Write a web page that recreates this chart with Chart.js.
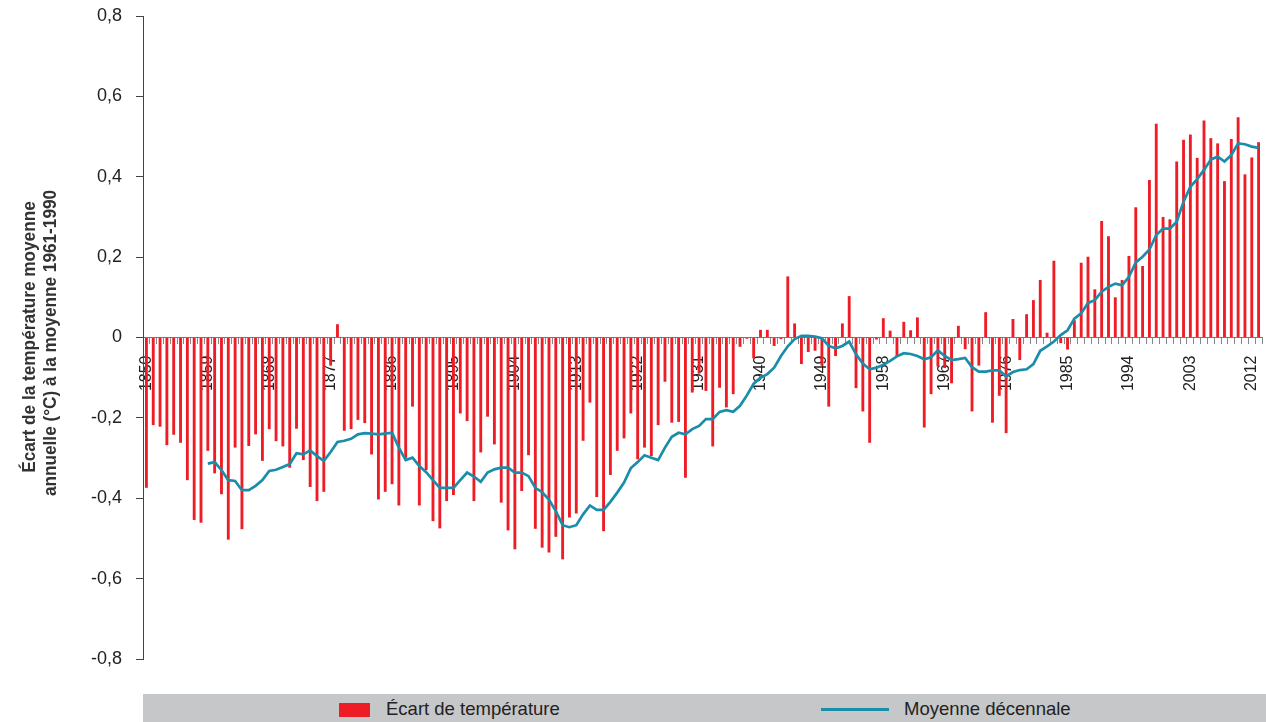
<!DOCTYPE html>
<html lang="fr">
<head>
<meta charset="utf-8">
<title>Écart de la température moyenne annuelle</title>
<script src="https://cdn.jsdelivr.net/npm/chart.js@4.4.1/dist/chart.umd.min.js"></script>
<style>
    body { margin: 0; background: #fff; }
    #wrap { position: relative; width: 1266px; height: 722px; }
    #legend {
        position: absolute; left: 143px; top: 694px; width: 1123px; height: 28px;
        background: #c6c7c9; font-family: "Liberation Sans", Arial, sans-serif;
        font-size: 18.5px; color: #222;
    }
    .item { position: absolute; top: 0; height: 28px; line-height: 29px; white-space: nowrap; }
    .box { position: absolute; left: 196px; top: 9px; width: 31px; height: 14px; background: #ee1c25; }
    .line { position: absolute; left: 678px; top: 14px; width: 68px; height: 3px; background: #1a8dab; }
</style>
</head>
<body>
<div id="wrap">
    <canvas id="chart" width="1266" height="694"></canvas>
    <div id="legend">
        <div class="box"></div>
        <div class="item" style="left:243px">Écart de température</div>
        <div class="line"></div>
        <div class="item" style="left:761px">Moyenne décennale</div>
    </div>
</div>
<script>
// years on the category axis
var years = [
    1850, 1851, 1852, 1853, 1854, 1855, 1856, 1857, 1858, 1859,
    1860, 1861, 1862, 1863, 1864, 1865, 1866, 1867, 1868, 1869,
    1870, 1871, 1872, 1873, 1874, 1875, 1876, 1877, 1878, 1879,
    1880, 1881, 1882, 1883, 1884, 1885, 1886, 1887, 1888, 1889,
    1890, 1891, 1892, 1893, 1894, 1895, 1896, 1897, 1898, 1899,
    1900, 1901, 1902, 1903, 1904, 1905, 1906, 1907, 1908, 1909,
    1910, 1911, 1912, 1913, 1914, 1915, 1916, 1917, 1918, 1919,
    1920, 1921, 1922, 1923, 1924, 1925, 1926, 1927, 1928, 1929,
    1930, 1931, 1932, 1933, 1934, 1935, 1936, 1937, 1938, 1939,
    1940, 1941, 1942, 1943, 1944, 1945, 1946, 1947, 1948, 1949,
    1950, 1951, 1952, 1953, 1954, 1955, 1956, 1957, 1958, 1959,
    1960, 1961, 1962, 1963, 1964, 1965, 1966, 1967, 1968, 1969,
    1970, 1971, 1972, 1973, 1974, 1975, 1976, 1977, 1978, 1979,
    1980, 1981, 1982, 1983, 1984, 1985, 1986, 1987, 1988, 1989,
    1990, 1991, 1992, 1993, 1994, 1995, 1996, 1997, 1998, 1999,
    2000, 2001, 2002, 2003, 2004, 2005, 2006, 2007, 2008, 2009,
    2010, 2011, 2012, 2013
];

// years that get a label under the axis
var labelledYears = [1850, 1859, 1868, 1877, 1886, 1895, 1904, 1913, 1922, 1931,
    1940, 1949, 1958, 1967, 1976, 1985, 1994, 2003, 2012];

// y axis title, two lines
var yTitle = ['Écart de la température moyenne', 'annuelle (°C) à la moyenne 1961-1990'];

// annual anomaly (°C) vs 1961-1990
var anomalies = [
    -0.374, -0.218, -0.222, -0.268, -0.242, -0.262, -0.355, -0.454, -0.461, -0.282,
    -0.338, -0.390, -0.503, -0.274, -0.477, -0.270, -0.241, -0.307, -0.228, -0.258,
    -0.271, -0.324, -0.227, -0.305, -0.372, -0.407, -0.384, -0.070, 0.033, -0.232,
    -0.228, -0.205, -0.213, -0.291, -0.403, -0.384, -0.365, -0.418, -0.300, -0.172,
    -0.418, -0.330, -0.457, -0.475, -0.407, -0.392, -0.189, -0.208, -0.407, -0.286,
    -0.197, -0.266, -0.411, -0.480, -0.527, -0.382, -0.293, -0.476, -0.523, -0.535,
    -0.496, -0.552, -0.448, -0.438, -0.257, -0.162, -0.397, -0.482, -0.342, -0.282,
    -0.251, -0.189, -0.303, -0.274, -0.295, -0.218, -0.110, -0.212, -0.210, -0.349,
    -0.137, -0.090, -0.133, -0.271, -0.125, -0.174, -0.141, -0.023, -0.003, -0.052,
    0.019, 0.019, -0.021, -0.004, 0.152, 0.035, -0.066, -0.036, -0.033, -0.070,
    -0.172, -0.046, 0.035, 0.103, -0.126, -0.184, -0.262, -0.005, 0.048, 0.017,
    -0.046, 0.039, 0.018, 0.050, -0.224, -0.141, -0.072, -0.076, -0.114, 0.029,
    -0.029, -0.184, -0.070, 0.063, -0.212, -0.145, -0.238, 0.046, -0.056, 0.058,
    0.093, 0.143, 0.012, 0.191, -0.014, -0.030, 0.043, 0.186, 0.201, 0.120,
    0.290, 0.252, 0.100, 0.143, 0.203, 0.324, 0.178, 0.392, 0.532, 0.300,
    0.294, 0.438, 0.492, 0.505, 0.447, 0.540, 0.496, 0.483, 0.389, 0.494,
    0.548, 0.406, 0.448, 0.486
];

// decadal mean line, starts in 1859
var decadalMean = [
    null, null, null, null, null, null, null, null, null, -0.314,
    -0.310, -0.330, -0.355, -0.357, -0.380, -0.380, -0.369, -0.355, -0.332, -0.329,
    -0.322, -0.315, -0.288, -0.291, -0.281, -0.295, -0.307, -0.285, -0.260, -0.257,
    -0.252, -0.241, -0.238, -0.239, -0.241, -0.239, -0.237, -0.274, -0.305, -0.299,
    -0.320, -0.335, -0.355, -0.374, -0.374, -0.374, -0.355, -0.336, -0.346, -0.359,
    -0.336, -0.328, -0.324, -0.324, -0.336, -0.336, -0.345, -0.374, -0.385, -0.403,
    -0.432, -0.467, -0.472, -0.467, -0.440, -0.418, -0.429, -0.429, -0.409, -0.386,
    -0.361, -0.325, -0.310, -0.293, -0.299, -0.305, -0.274, -0.247, -0.237, -0.241,
    -0.228, -0.220, -0.203, -0.203, -0.185, -0.181, -0.185, -0.170, -0.144, -0.115,
    -0.100, -0.091, -0.075, -0.046, -0.022, -0.004, 0.004, 0.004, 0.002, -0.002,
    -0.021, -0.027, -0.021, -0.010, -0.042, -0.065, -0.079, -0.075, -0.068, -0.058,
    -0.047, -0.039, -0.041, -0.046, -0.054, -0.049, -0.032, -0.046, -0.056, -0.054,
    -0.051, -0.074, -0.085, -0.085, -0.082, -0.082, -0.097, -0.086, -0.081, -0.079,
    -0.066, -0.033, -0.022, -0.010, 0.006, 0.018, 0.047, 0.060, 0.086, 0.093,
    0.114, 0.126, 0.134, 0.130, 0.151, 0.187, 0.201, 0.219, 0.255, 0.271,
    0.271, 0.288, 0.338, 0.375, 0.394, 0.417, 0.443, 0.450, 0.438, 0.454,
    0.483, 0.481, 0.475, 0.472
];

// draws the y title a bit narrower, like the condensed font of the original
var yTitlePlugin = {
    id: 'yTitle',
    afterDraw: function(chart) {
        var c = chart.ctx;
        var spots = [[34.5, 337], [56, 343]];
        c.save();
        c.fillStyle = '#333';
        c.font = 'bold 18.5px "Liberation Sans", Arial, sans-serif';
        c.textAlign = 'center';
        c.textBaseline = 'alphabetic';
        yTitle.forEach(function(txt, i) {
            c.save();
            c.translate(spots[i][0], spots[i][1]);
            c.rotate(-Math.PI / 2);
            c.scale(0.93, 1);
            c.fillText(txt, 0, 0);
            c.restore();
        });
        c.restore();
    }
};

var ctx = document.getElementById('chart').getContext('2d');
var chart = new Chart(ctx, {
    type: 'bar',
    data: {
        labels: years,
        datasets: [{
            type: 'line',
            label: 'Moyenne décennale',
            data: decadalMean,
            borderColor: '#1a8dab',
            borderWidth: 2.7,
            pointRadius: 0,
            tension: 0,
            spanGaps: false,
            order: 0
        }, {
            label: 'Écart de température',
            data: anomalies,
            backgroundColor: '#ee1c25',
            barPercentage: 0.42,
            categoryPercentage: 1,
            order: 1
        }]
    },
    options: {
        responsive: false,
        animation: false,
        layout: { padding: { top: 16, bottom: 35, left: 0, right: 4 } },
        plugins: {
            legend: { display: false },
            tooltip: { enabled: false }
        },
        scales: {
            x: {
                position: { y: 0 },
                // no extra side padding for the rotated labels
                afterFit: function(scale) { scale.paddingLeft = 0; scale.paddingRight = 0; },
                grid: {
                    drawOnChartArea: false,
                    drawTicks: true,
                    tickLength: 6,
                    color: '#888'
                },
                border: { color: '#777', width: 1 },
                ticks: {
                    autoSkip: false,
                    maxRotation: 90,
                    minRotation: 90,
                    padding: 12,
                    color: '#222',
                    font: { family: '"Liberation Sans", Arial, sans-serif', size: 16 },
                    callback: function(value, index) {
                        var y = years[index];
                        return labelledYears.indexOf(y) >= 0 ? String(y) : '';
                    }
                }
            },
            y: {
                min: -0.8,
                max: 0.8,
                afterFit: function(scale) {
                    scale.width = 143;
                    scale.paddingTop = 0;
                    scale.paddingBottom = 0;
                },
                grid: {
                    drawOnChartArea: false,
                    drawTicks: true,
                    tickLength: 7,
                    color: '#444'
                },
                border: { color: '#444', width: 1 },
                ticks: {
                    stepSize: 0.2,
                    padding: 14,
                    color: '#222',
                    font: { family: '"Liberation Sans", Arial, sans-serif', size: 18 },
                    callback: function(value) {
                        var v = Math.round(value * 10) / 10;
                        if (v === 0) return '0';
                        return v.toFixed(1).replace('.', ',');
                    }
                }
            }
        }
    },
    plugins: [yTitlePlugin]
});
</script>
</body>
</html>
